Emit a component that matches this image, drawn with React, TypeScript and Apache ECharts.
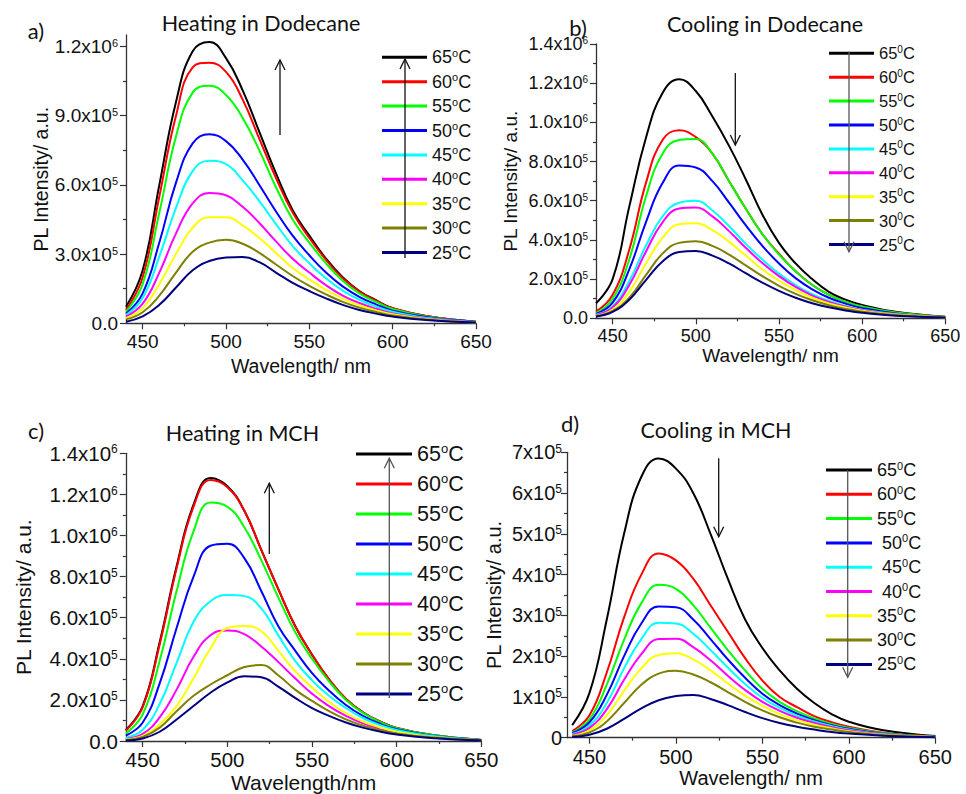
import React, { useEffect, useRef } from 'react';
import * as echarts from 'echarts';

// Wavelength grid (nm) shared by every spectrum
const WL = [440, 450, 460, 470, 480, 490, 500, 510, 520, 530, 540, 550, 560, 570, 580, 590, 600, 620, 650];
const TEMPS = ['65', '60', '55', '50', '45', '40', '35', '30', '25'];
const COLORS = ['#000000', '#ff0000', '#00ff00', '#0000ff', '#00ffff', '#ff00ff', '#ffff00', '#808000', '#000080'];

// PL intensity in units of 1e5 a.u.
// a) Heating in Dodecane
const A65 = [0.72, 2.3, 6.0, 9.6, 11.8, 12.2, 11.5, 10.1, 8.3, 6.5, 4.9, 3.8, 2.8, 2.0, 1.4, 1.0, 0.65, 0.32, 0.07];
const A60 = [0.58, 2.0, 5.5, 9.0, 11.1, 11.3, 10.9, 9.7, 8.0, 6.3, 4.8, 3.7, 2.75, 1.95, 1.38, 0.98, 0.65, 0.32, 0.07];
const A55 = [0.5, 1.7, 4.8, 8.1, 10.0, 10.3, 9.9, 8.9, 7.5, 5.9, 4.5, 3.5, 2.6, 1.85, 1.3, 0.93, 0.62, 0.3, 0.07];
const A50 = [0.42, 1.3, 3.5, 6.1, 7.8, 8.2, 7.9, 7.1, 6.0, 4.85, 3.8, 2.95, 2.2, 1.6, 1.15, 0.82, 0.55, 0.27, 0.06];
const A45 = [0.36, 1.1, 2.9, 5.0, 6.6, 7.05, 6.9, 6.2, 5.3, 4.3, 3.35, 2.6, 1.95, 1.42, 1.02, 0.73, 0.5, 0.24, 0.05];
const A40 = [0.29, 0.85, 2.2, 3.9, 5.2, 5.65, 5.55, 5.05, 4.35, 3.55, 2.8, 2.2, 1.65, 1.2, 0.88, 0.63, 0.43, 0.21, 0.05];
const A35 = [0.22, 0.65, 1.7, 3.0, 4.15, 4.6, 4.6, 4.25, 3.7, 3.05, 2.4, 1.9, 1.45, 1.07, 0.78, 0.56, 0.39, 0.19, 0.04];
const A30 = [0.17, 0.48, 1.2, 2.2, 3.1, 3.5, 3.62, 3.45, 3.05, 2.55, 2.05, 1.62, 1.25, 0.93, 0.68, 0.49, 0.34, 0.17, 0.04];
const A25 = [0.07, 0.3, 0.8, 1.55, 2.3, 2.7, 2.85, 2.87, 2.65, 2.2, 1.75, 1.4, 1.08, 0.8, 0.58, 0.42, 0.29, 0.14, 0.03];

// b) Cooling in Dodecane
const B65 = [0.77, 2.0, 5.7, 9.2, 11.5, 12.2, 11.6, 10.3, 8.8, 7.1, 5.3, 3.85, 2.8, 2.0, 1.35, 0.95, 0.68, 0.33, 0.08];
const B60 = [0.34, 1.2, 3.5, 6.9, 9.1, 9.6, 9.25, 8.4, 7.0, 5.6, 4.3, 3.3, 2.4, 1.7, 1.2, 0.85, 0.6, 0.3, 0.07];
const B55 = [0.26, 1.0, 3.0, 6.2, 8.4, 9.1, 9.15, 8.4, 7.0, 5.6, 4.3, 3.25, 2.4, 1.7, 1.2, 0.85, 0.6, 0.3, 0.07];
const B50 = [0.22, 0.8, 2.5, 4.9, 6.9, 7.8, 7.7, 7.0, 5.9, 4.75, 3.7, 2.8, 2.05, 1.48, 1.05, 0.75, 0.52, 0.25, 0.06];
const B45 = [0.18, 0.6, 1.9, 3.7, 5.2, 5.9, 6.0, 5.5, 4.7, 3.8, 3.0, 2.28, 1.7, 1.23, 0.88, 0.63, 0.44, 0.22, 0.05];
const B40 = [0.16, 0.55, 1.7, 3.4, 4.9, 5.6, 5.65, 5.2, 4.45, 3.6, 2.82, 2.15, 1.6, 1.16, 0.83, 0.6, 0.42, 0.21, 0.05];
const B35 = [0.13, 0.45, 1.35, 2.8, 4.1, 4.8, 4.85, 4.5, 3.9, 3.2, 2.5, 1.92, 1.44, 1.05, 0.76, 0.55, 0.39, 0.19, 0.05];
const B30 = [0.12, 0.38, 1.05, 2.2, 3.3, 3.85, 3.93, 3.7, 3.25, 2.7, 2.15, 1.66, 1.25, 0.92, 0.67, 0.48, 0.34, 0.17, 0.04];
const B25 = [0.09, 0.33, 0.95, 1.95, 2.9, 3.38, 3.43, 3.2, 2.8, 2.3, 1.82, 1.4, 1.05, 0.77, 0.56, 0.4, 0.28, 0.13, 0.04];

// c) Heating in MCH
const C65 = [0.54, 1.7, 4.8, 8.5, 11.5, 12.8, 12.4, 11.2, 9.3, 7.4, 5.6, 4.2, 3.0, 2.05, 1.4, 0.95, 0.63, 0.3, 0.05];
const C60 = [0.5, 1.65, 4.7, 8.4, 11.4, 12.7, 12.35, 11.2, 9.3, 7.4, 5.6, 4.2, 3.0, 2.05, 1.4, 0.95, 0.63, 0.3, 0.05];
const C55 = [0.37, 1.3, 3.9, 7.3, 10.2, 11.6, 11.4, 10.4, 8.8, 7.0, 5.3, 4.0, 2.9, 2.0, 1.37, 0.93, 0.62, 0.3, 0.05];
const C50 = [0.26, 0.9, 2.8, 5.5, 8.0, 9.5, 9.6, 8.9, 7.3, 5.6, 4.4, 3.3, 2.45, 1.75, 1.22, 0.84, 0.57, 0.27, 0.05];
const C45 = [0.16, 0.55, 1.8, 3.8, 5.8, 6.8, 7.1, 7.05, 6.45, 5.15, 3.9, 2.95, 2.2, 1.6, 1.12, 0.78, 0.54, 0.26, 0.05];
const C40 = [0.1, 0.35, 1.15, 2.5, 4.1, 5.15, 5.38, 5.2, 4.6, 3.85, 3.05, 2.3, 1.7, 1.22, 0.86, 0.6, 0.41, 0.19, 0.04];
const C35 = [0.08, 0.25, 0.8, 1.7, 3.05, 4.5, 5.5, 5.6, 5.35, 4.4, 3.4, 2.6, 1.9, 1.35, 0.95, 0.66, 0.45, 0.21, 0.04];
const C30 = [0.05, 0.2, 0.65, 1.45, 2.2, 2.75, 3.2, 3.6, 3.7, 3.2, 2.5, 1.95, 1.45, 1.05, 0.75, 0.53, 0.37, 0.18, 0.04];
const C25 = [0.02, 0.12, 0.45, 1.05, 1.7, 2.35, 2.85, 3.15, 3.1, 2.65, 2.1, 1.6, 1.22, 0.9, 0.65, 0.46, 0.32, 0.15, 0.03];

// d) Cooling in MCH
const D65 = [0.31, 1.1, 2.9, 5.0, 6.4, 6.85, 6.6, 6.0, 5.0, 3.9, 2.9, 2.2, 1.65, 1.2, 0.85, 0.58, 0.39, 0.18, 0.04];
const D60 = [0.16, 0.55, 1.6, 2.95, 4.0, 4.52, 4.35, 3.9, 3.25, 2.6, 1.95, 1.4, 1.0, 0.75, 0.53, 0.38, 0.27, 0.12, 0.03];
const D55 = [0.13, 0.45, 1.3, 2.4, 3.3, 3.75, 3.65, 3.25, 2.7, 2.15, 1.65, 1.2, 0.88, 0.65, 0.47, 0.34, 0.24, 0.11, 0.03];
const D50 = [0.11, 0.38, 1.05, 2.0, 2.8, 3.22, 3.2, 2.9, 2.42, 1.92, 1.47, 1.08, 0.8, 0.59, 0.43, 0.31, 0.22, 0.1, 0.03];
const D45 = [0.09, 0.3, 0.85, 1.7, 2.42, 2.82, 2.8, 2.55, 2.15, 1.72, 1.32, 0.98, 0.73, 0.54, 0.4, 0.29, 0.2, 0.09, 0.02];
const D40 = [0.07, 0.24, 0.7, 1.42, 2.05, 2.42, 2.43, 2.22, 1.9, 1.52, 1.17, 0.88, 0.66, 0.49, 0.36, 0.26, 0.18, 0.08, 0.02];
const D35 = [0.05, 0.18, 0.55, 1.15, 1.7, 2.03, 2.07, 1.92, 1.65, 1.33, 1.03, 0.78, 0.58, 0.43, 0.32, 0.23, 0.16, 0.07, 0.02];
const D30 = [0.04, 0.13, 0.4, 0.85, 1.3, 1.57, 1.64, 1.55, 1.36, 1.12, 0.88, 0.67, 0.5, 0.37, 0.27, 0.2, 0.14, 0.06, 0.02];
const D25 = [0.02, 0.07, 0.22, 0.46, 0.72, 0.92, 1.02, 1.05, 0.95, 0.8, 0.63, 0.48, 0.36, 0.27, 0.2, 0.14, 0.1, 0.05, 0.01];

// tick values
const X_LABELS = [450, 500, 550, 600, 650];
const X_MINOR = [475, 525, 575, 625];
const Y_LABELS_A = [0, 3, 6, 9, 12];
const Y_MINOR_A = [1.5, 4.5, 7.5, 10.5];
const Y_LABELS_BC = [0, 2, 4, 6, 8, 10, 12, 14];
const Y_MINOR_BC = [1, 3, 5, 7, 9, 11, 13];
const Y_LABELS_D = [0, 1, 2, 3, 4, 5, 6, 7];
const Y_MINOR_D = [0.5, 1.5, 2.5, 3.5, 4.5, 5.5, 6.5];

const AXIS_FONT = '"Liberation Sans", Arial, sans-serif';
const TITLE_FONT = 'Lato, "Open Sans", sans-serif';

const PANELS = [
  {
    data: [A65, A60, A55, A50, A45, A40, A35, A30, A25],
    grid: { left: 126, top: 35, width: 350, height: 288.3 },
    xMin: 440, yMax: 12.5, yLabels: Y_LABELS_A, yMinor: Y_MINOR_A, fmt: 'dec',
    fs: 19, nameFs: 19.5, xName: 'Wavelength/ nm', xNameGap: 33, yNameGap: 73, yLabelMargin: 8, xLabelMargin: 9,
    legend: { left: 382, first: 57.3, step: 25.4, itemWidth: 45, fs: 18, sfs: 11, raise: 4.5, deg: 'o', pad: [] as string[] },
  },
  {
    data: [B65, B60, B55, B50, B45, B40, B35, B30, B25],
    grid: { left: 596, top: 44, width: 349.3, height: 274.3 },
    xMin: 440, yMax: 14, yLabels: Y_LABELS_BC, yMinor: Y_MINOR_BC, fmt: 'dec',
    fs: 18, nameFs: 19, xName: 'Wavelength/ nm', xNameGap: 26, yNameGap: 76, yLabelMargin: 8, xLabelMargin: 9,
    legend: { left: 829, first: 53.3, step: 24.4, itemWidth: 45, fs: 16.5, sfs: 10, raise: 4, deg: '0', pad: [] as string[] },
  },
  {
    data: [C65, C60, C55, C50, C45, C40, C35, C30, C25],
    grid: { left: 125.8, top: 453.3, width: 355.6, height: 287.7 },
    xMin: 440, yMax: 14, yLabels: Y_LABELS_BC, yMinor: Y_MINOR_BC, fmt: 'dec',
    fs: 20.5, nameFs: 21, xName: 'Wavelength/nm', xNameGap: 31, yNameGap: 92, yLabelMargin: 8, xLabelMargin: 8,
    legend: { left: 356, first: 454, step: 31, itemWidth: 56, fs: 21.5, sfs: 13, raise: 5.5, deg: 'o', pad: [] as string[] },
  },
  {
    data: [D65, D60, D55, D50, D45, D40, D35, D30, D25],
    grid: { left: 567, top: 452.3, width: 368.3, height: 285.4 },
    xMin: 437, yMax: 7, yLabels: Y_LABELS_D, yMinor: Y_MINOR_D, fmt: 'int',
    fs: 20, nameFs: 20, xName: 'Wavelength/ nm', xNameGap: 29, yNameGap: 63, yLabelMargin: 5, xLabelMargin: 9,
    legend: { left: 826, first: 470, step: 25.3, itemWidth: 46, fs: 18, sfs: 11, raise: 4.5, deg: '0', pad: ['50', '45', '40'] },
  },
];

const TEXTS = [
  { text: 'a)', x: 36, y: 30, size: 22 },
  { text: 'Heating in Dodecane', x: 261, y: 23, size: 21.5 },
  { text: 'b)', x: 578, y: 27, size: 22 },
  { text: 'Cooling in Dodecane', x: 765, y: 24, size: 21.5 },
  { text: 'c)', x: 36, y: 430, size: 22 },
  { text: 'Heating in MCH', x: 242.5, y: 433, size: 21.5 },
  { text: 'd)', x: 570, y: 423, size: 22 },
  { text: 'Cooling in MCH', x: 716, y: 430, size: 21.5 },
];

// [x, tailY, headY, colour]
const ARROWS: [number, number, number, string][] = [
  [280, 135, 60, '#111'],
  [405, 258, 59, '#111'],
  [735.3, 73, 145, '#111'],
  [849, 51.7, 251.7, '#555'],
  [269.3, 554, 483.3, '#111'],
  [389.3, 698, 458.3, '#555'],
  [718.7, 458.3, 536.7, '#111'],
  [847.7, 470, 677.3, '#555'],
];

function yFormatter(fmt: string) {
  return (v: number) => {
    const r = Math.round(v * 1000) / 1000;
    if (fmt === 'int') return r === 0 ? '{m|0}' : `{m|${r}x10}{s|5}`;
    if (r === 0) return '{m|0.0}';
    if (r >= 10) return `{m|${(r / 10).toFixed(1)}x10}{s|6}`;
    return `{m|${r.toFixed(1)}x10}{s|5}`;
  };
}

function buildOption() {
  const grids: any[] = [];
  const xAxes: any[] = [];
  const yAxes: any[] = [];
  const series: any[] = [];
  const legends: any[] = [];
  const axisLine = { show: true, lineStyle: { color: '#333', width: 1.3 } };

  PANELS.forEach((p, pi) => {
    grids.push({ ...p.grid, containLabel: false });
    xAxes.push({
      type: 'value', gridIndex: pi, min: p.xMin, max: 650, position: 'bottom',
      axisLine, splitLine: { show: false },
      axisTick: { show: true, length: 6, customValues: X_LABELS, lineStyle: { color: '#333', width: 1.2 } },
      axisLabel: { customValues: X_LABELS, fontSize: p.fs, fontFamily: AXIS_FONT, color: '#111', margin: p.xLabelMargin },
      name: p.xName, nameLocation: 'middle', nameGap: p.xNameGap,
      nameTextStyle: { fontSize: p.nameFs, fontFamily: AXIS_FONT, color: '#111' },
    });
    xAxes.push({
      type: 'value', gridIndex: pi, min: p.xMin, max: 650, position: 'bottom',
      axisLine: { show: false }, splitLine: { show: false },
      axisTick: { show: true, length: 3, customValues: X_MINOR, lineStyle: { color: '#333', width: 1.2 } },
      axisLabel: { show: false },
    });
    const sfs = Math.round(p.fs * 0.58);
    const raise = Math.round(p.fs * 0.19 * 10) / 10;
    const lh = sfs + 2 * raise;
    yAxes.push({
      type: 'value', gridIndex: pi, min: 0, max: p.yMax, position: 'left',
      axisLine, splitLine: { show: false },
      axisTick: { show: true, length: 6, customValues: p.yLabels, lineStyle: { color: '#333', width: 1.2 } },
      axisLabel: {
        customValues: p.yLabels, margin: p.yLabelMargin, formatter: yFormatter(p.fmt),
        rich: {
          m: { fontSize: p.fs, lineHeight: lh, fontFamily: AXIS_FONT, color: '#111' },
          s: { fontSize: sfs, lineHeight: sfs, verticalAlign: 'top', fontFamily: AXIS_FONT, color: '#111' },
        },
      },
      name: 'PL Intensity/ a.u.', nameLocation: 'middle', nameGap: p.yNameGap, nameRotate: 90,
      nameTextStyle: { fontSize: p.nameFs, fontFamily: AXIS_FONT, color: '#111' },
    });
    yAxes.push({
      type: 'value', gridIndex: pi, min: 0, max: p.yMax, position: 'left',
      axisLine: { show: false }, splitLine: { show: false },
      axisTick: { show: true, length: 3, customValues: p.yMinor, lineStyle: { color: '#333', width: 1.2 } },
      axisLabel: { show: false },
    });

    p.data.forEach((vals, si) => {
      series.push({
        type: 'line', name: TEMPS[si] + '°C', xAxisIndex: pi * 2, yAxisIndex: pi * 2,
        data: WL.map((w, i) => [w, vals[i]]),
        showSymbol: false, symbol: 'none', smooth: 0.45,
        color: COLORS[si], lineStyle: { width: 2, color: COLORS[si] },
        silent: true,
      });
    });

    const L = p.legend;
    const llh = L.sfs + 2 * L.raise;
    legends.push({
      orient: 'vertical', left: L.left, top: L.first - llh / 2, padding: 0,
      itemWidth: L.itemWidth, itemHeight: 3, itemGap: L.step - llh, icon: 'rect',
      selectedMode: false,
      data: TEMPS.map((t) => t + '°C'),
      formatter: (name: string) => {
        const t = name.replace('°C', '');
        const pre = L.pad.indexOf(t) >= 0 ? ' ' : '';
        return `{t|${pre}${t}}{s|${L.deg}}{t|C}`;
      },
      textStyle: {
        rich: {
          t: { fontSize: L.fs, lineHeight: llh, fontFamily: AXIS_FONT, color: '#111' },
          s: { fontSize: L.sfs, lineHeight: L.sfs, verticalAlign: 'top', fontFamily: AXIS_FONT, color: '#111' },
        },
      },
    });
  });

  const graphics: any[] = [];
  TEXTS.forEach((t) => {
    graphics.push({
      type: 'text', x: t.x, y: t.y, z: 100,
      style: { text: t.text, fontSize: t.size, fontFamily: TITLE_FONT, fill: '#111', textAlign: 'center', textVerticalAlign: 'middle', verticalAlign: 'middle' },
    });
  });
  ARROWS.forEach(([x, y1, y2, c]) => {
    const dir = y2 < y1 ? 1 : -1;
    graphics.push({ type: 'line', z: 100, shape: { x1: x, y1, x2: x, y2 }, style: { stroke: c, lineWidth: 1.3 } });
    graphics.push({
      type: 'polyline', z: 100,
      shape: { points: [[x - 5, y2 + dir * 10], [x, y2], [x + 5, y2 + dir * 10]] },
      style: { stroke: c, lineWidth: 1.3, fill: null },
    });
  });

  return {
    animation: false,
    backgroundColor: '#ffffff',
    grid: grids,
    xAxis: xAxes,
    yAxis: yAxes,
    legend: legends,
    series,
    graphic: graphics,
  };
}

export default function App() {
  const ref = useRef<HTMLDivElement>(null);
  useEffect(() => {
    if (!ref.current) return;
    const chart = echarts.init(ref.current, null, { renderer: 'svg' });
    chart.setOption(buildOption() as any);
    return () => chart.dispose();
  }, []);
  return <div ref={ref} style={{ position: 'fixed', left: 0, top: 0, width: 966, height: 794, background: '#fff' }} />;
}
